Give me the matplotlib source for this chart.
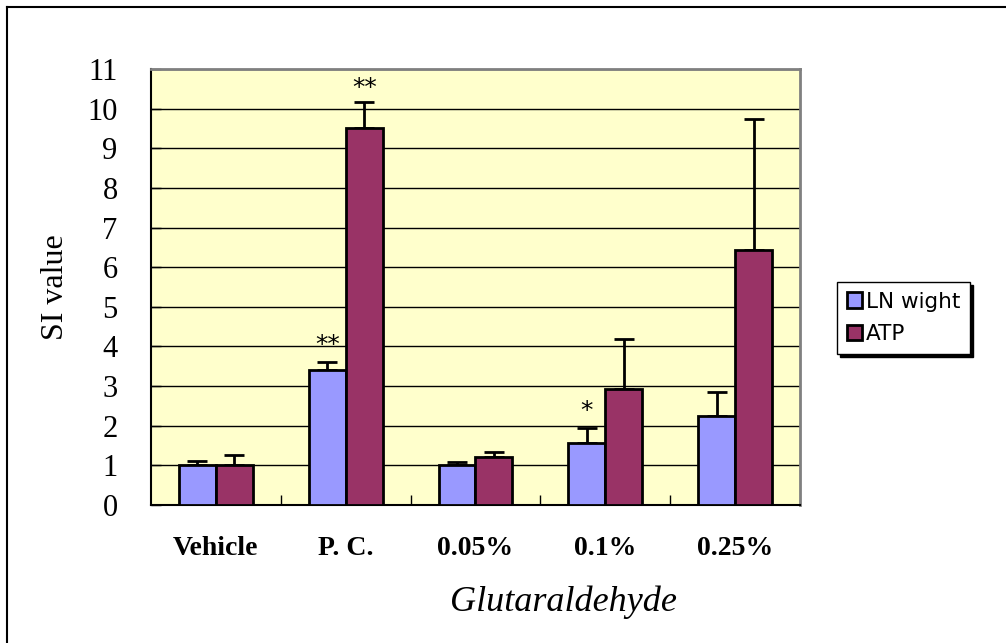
import matplotlib.pyplot as plt
from matplotlib.lines import Line2D
import numpy as np

categories = ['Vehicle', 'P. C.', '0.05%', '0.1%', '0.25%']
ln_wight = [1.0, 3.40, 1.02, 1.57, 2.25]
ln_err = [0.10, 0.21, 0.07, 0.38, 0.60]
atp = [1.0, 9.52, 1.22, 2.93, 6.44]
atp_err = [0.25, 0.65, 0.12, 1.25, 3.30]
ln_marks = ['', '**', '', '*', '']
atp_marks = ['', '**', '', '', '']

fig = plt.figure(figsize=(10.06, 6.43), dpi=100)
ax = fig.add_axes([151/1006, 1 - 505/643, (800-151)/1006, (505-69)/643])
ax.set_facecolor('#FFFFCC')

x = np.arange(len(categories))
w = 0.285
ekw = dict(ecolor='black', elinewidth=2, capsize=7, capthick=2)
ax.bar(x - w/2, ln_wight, w, color='#9999FF', edgecolor='black', linewidth=2,
       label='LN wight', zorder=3)
ax.bar(x + w/2, atp, w, color='#993366', edgecolor='black', linewidth=2,
       label='ATP', zorder=3)
# only upper error bars
ax.errorbar(x - w/2, ln_wight, yerr=[np.zeros(5), ln_err], fmt='none', zorder=2, **ekw)
ax.errorbar(x + w/2, atp, yerr=[np.zeros(5), atp_err], fmt='none', zorder=2, **ekw)

for i in range(len(categories)):
    if ln_marks[i]:
        ax.text(x[i] - w/2, ln_wight[i] + ln_err[i] + 0.12, ln_marks[i], ha='center',
                va='bottom', fontsize=18, family='DejaVu Sans')
    if atp_marks[i]:
        ax.text(x[i] + w/2, atp[i] + atp_err[i] + 0.05, atp_marks[i], ha='center',
                va='bottom', fontsize=18, family='DejaVu Sans')

ax.set_xlim(-0.5, 4.5)
ax.set_ylim(0, 11)
ax.set_yticks(range(12))
ax.yaxis.grid(True, color='black', linewidth=1)
ax.set_axisbelow(True)
ax.tick_params(axis='y', direction='in', length=7, width=1, pad=24, labelsize=22)
for lab in ax.get_yticklabels():
    lab.set_family('Liberation Serif')

ax.set_xticks(x)
ax.set_xticklabels(categories, family='Liberation Serif', fontweight='bold', fontsize=20)
ax.set_xticks(np.arange(0.5, 4.5, 1), minor=True)
ax.tick_params(axis='x', which='major', length=0, pad=22)
ax.tick_params(axis='x', which='minor', direction='in', length=7, width=1)

ax.spines['left'].set_color('black')
ax.spines['bottom'].set_color('black')
ax.spines['left'].set_linewidth(1.5)
ax.spines['bottom'].set_linewidth(1.5)
ax.spines['top'].set_color('#808080')
ax.spines['right'].set_color('#808080')
ax.spines['top'].set_linewidth(2)
ax.spines['right'].set_linewidth(2)

ax.set_ylabel('SI value', family='Liberation Serif', fontsize=23)
ax.yaxis.set_label_coords((55 - 151) / 649, 0.5)
ax.set_xlabel('Glutaraldehyde', family='Liberation Serif', style='italic', fontsize=26)
ax.xaxis.set_label_coords((563 - 151) / 649, -(602 - 505) / 436)
ax.xaxis.label.set_va('center')
ax.yaxis.label.set_va('center')

leg = ax.legend(loc='center left', bbox_to_anchor=(837/1006, 1 - 318/643),
                bbox_transform=fig.transFigure, frameon=True, fancybox=False,
                shadow={'color': 'black', 'alpha': 1}, prop={'family': 'DejaVu Sans', 'size': 15.5},
                handlelength=0.7, handleheight=0.7, handletextpad=0.2, borderpad=0.45,
                labelspacing=0.6, borderaxespad=0)
leg.get_frame().set_edgecolor('black')
leg.get_frame().set_linewidth(1)

fig.add_artist(Line2D([7/1006, 7/1006], [0, 1 - 7/643], transform=fig.transFigure,
                      color='black', linewidth=1.5))
fig.add_artist(Line2D([7/1006, 1], [1 - 7/643, 1 - 7/643], transform=fig.transFigure,
                      color='black', linewidth=1.5))

fig.savefig('out.png', dpi=100)
